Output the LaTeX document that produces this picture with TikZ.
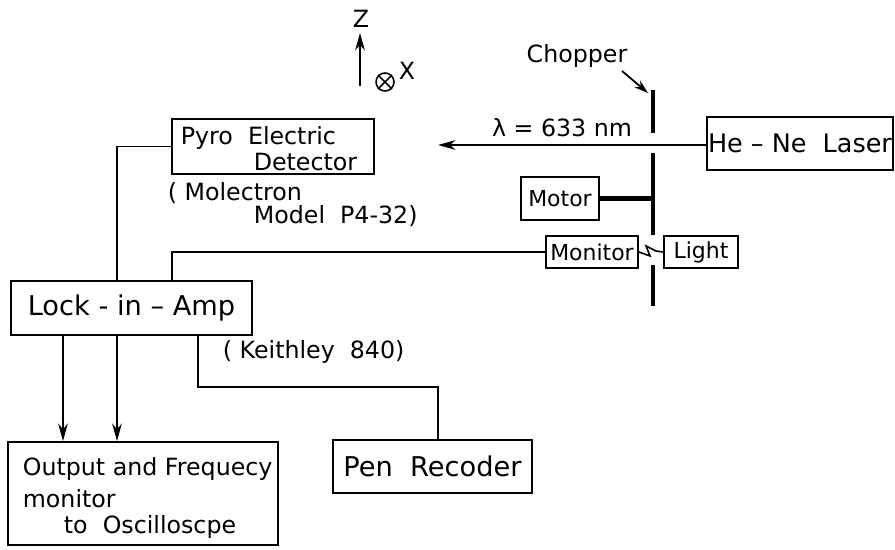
\documentclass[tikz,border=0pt]{standalone}
\usepackage{fontspec}
\setmainfont{DejaVu Sans}
\usetikzlibrary{arrows.meta}
\begin{document}
\begin{tikzpicture}[x=0.02cm,y=-0.02cm,
  line width=1pt,
  box/.style={draw, line width=1pt, inner sep=0pt},
  big/.style={font=\fontsize{15.5}{18}\selectfont},
  small/.style={font=\fontsize{13.5}{16}\selectfont},
  tag/.style={font=\fontsize{12.5}{15}\selectfont},
  txt/.style={inner sep=0pt, anchor=base west},
  blade/.style={line width=2.6pt},
  arr/.style={-{Stealth[length=10pt,width=5.5pt]}},
]
\useasboundingbox (0,0) rectangle (895,550);

% axes
\coordinate (ax0) at (360,86);
\coordinate (ax1) at (360,33);
\draw[arr] (ax0) -- (ax1);
\node[small, inner sep=0pt, anchor=base] (zlab) at (361,28) {Z};
\node[draw, circle, line width=0.9pt, minimum size=0.36cm, inner sep=0pt] (xdir) at (385,82) {};
\draw[line width=0.9pt] (xdir.north west) -- (xdir.south east);
\draw[line width=0.9pt] (xdir.north east) -- (xdir.south west);
\node[small, inner sep=0pt, anchor=base] (xlab) at (407,80) {X};

% boxes
\node[box, font=\fontsize{14.5}{17}\selectfont, minimum width=3.72cm, minimum height=1.06cm] (laser) at (800,143.5) {He – Ne\ \ Laser};
\node[box, minimum width=4.04cm, minimum height=1.10cm] (pyro) at (273,146.5) {};
\node[small, txt] (pyro1) at (180,145) {Pyro\ \ Electric};
\node[small, inner sep=0pt, anchor=base east] (pyro2) at (358,171) {Detector};
\node[small, txt] (mol1) at (167,201) {( Molectron};
\node[small, txt] (mol2) at (253,224) {Model\ \ P4-32)};
\node[box, tag, minimum width=1.56cm, minimum height=0.86cm] (motor) at (560,198.5) {Motor};
\node[box, tag, minimum width=1.84cm, minimum height=0.64cm] (monitor) at (592,252) {Monitor};
\node[box, tag, minimum width=1.48cm, minimum height=0.64cm] (light) at (701,252) {Light};
\node[box, big, minimum width=4.82cm, minimum height=1.08cm] (lockin) at (131.5,308) {Lock - in – Amp};
\node[small, txt] (keith) at (222,358) {( Keithley\ \ 840)};
\node[box, minimum width=5.4cm, minimum height=2.06cm] (output) at (143,493.5) {};
\node[small, txt] (out1) at (22,475) {Output and Frequecy};
\node[small, txt] (out2) at (22,507) {monitor};
\node[small, txt] (out3) at (63,533) {to\ \ Oscilloscpe};
\node[box, big, minimum width=3.98cm, minimum height=1.06cm] (pen) at (432.5,466.5) {Pen\ \ Recoder};

% chopper
\node[small, inner sep=0pt, anchor=base] (chop) at (577,63) {Chopper};
\coordinate (ca) at (622,71);
\coordinate (chtip) at (648,93);
\draw[-{Stealth[length=8pt,width=5pt]}] (ca) -- (chtip);
\coordinate (ch1) at (653,90);
\coordinate (ch2) at (653,133);
\coordinate (ch3) at (653,153);
\coordinate (ch4) at (653,235);
\coordinate (ch5) at (653,265);
\coordinate (ch6) at (653,306);
\draw[blade] (ch1) -- (ch2);
\draw[blade] (ch3) -- (ch4);
\draw[blade] (ch5) -- (ch6);
\draw[blade] (motor.east) -- (motor.east -| ch3);

% laser beam
\node[small, inner sep=0pt, anchor=base] (lambda) at (562,137) {λ = 633 nm};
\coordinate (beamtip) at (438,145);
\draw[arr] (laser.west |- beamtip) -- (beamtip);

% light -> monitor zigzag
\coordinate (z1) at (656,251);
\coordinate (z2) at (646,246);
\coordinate (z3) at (650,256);
\draw[line width=0.9pt] (light.west) -- (z1) -- (z2) -- (z3) -- (monitor.east);

% connections
\coordinate (c63) at (63,0);
\coordinate (c117) at (117,0);
\coordinate (c172) at (172,0);
\coordinate (c198) at (198,0);
\coordinate (c438) at (438,0);
\draw (pyro.west) -| (lockin.north -| c117);
\draw (monitor.west) -| (lockin.north -| c172);
\draw[arr] (lockin.south -| c63) -- (output.north -| c63);
\draw[arr] (lockin.south -| c117) -- (output.north -| c117);
\coordinate (t1) at (198,387);
\coordinate (t2) at (438,387);
\draw (lockin.south -| c198) -- (t1) -- (t2) -- (pen.north -| c438);
\end{tikzpicture}
\end{document}
